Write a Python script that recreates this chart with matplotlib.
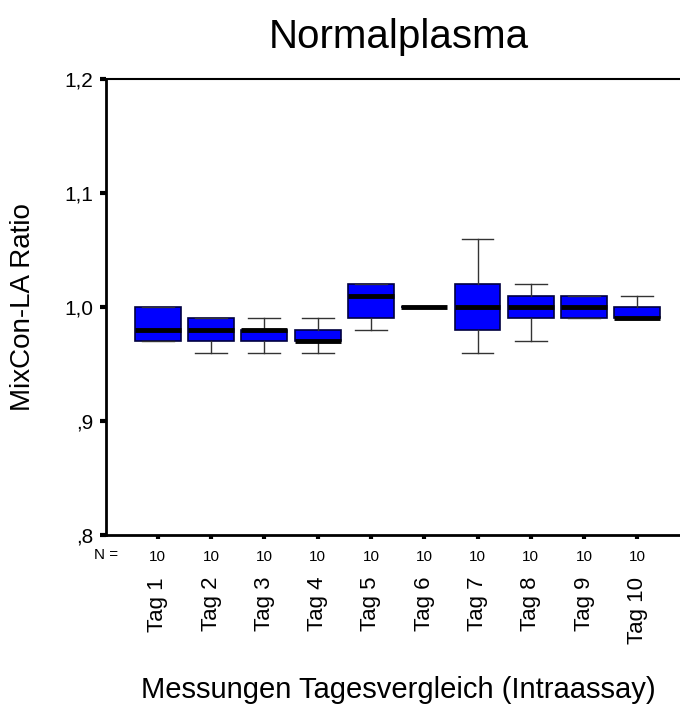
import matplotlib.pyplot as plt
import numpy as np

plt.rcParams['font.family'] = ['Liberation Sans', 'DejaVu Sans']

tage = ["Tag 1", "Tag 2", "Tag 3", "Tag 4", "Tag 5", "Tag 6", "Tag 7", "Tag 8", "Tag 9", "Tag 10"]
n = [10, 10, 10, 10, 10, 10, 10, 10, 10, 10]
median = [0.98, 0.98, 0.98, 0.97, 1.01, 1.00, 1.00, 1.00, 1.00, 0.99]
q1 = [0.97, 0.97, 0.97, 0.97, 0.99, 1.00, 0.98, 0.99, 0.99, 0.99]
q3 = [1.00, 0.99, 0.98, 0.98, 1.02, 1.00, 1.02, 1.01, 1.01, 1.00]
minimum = [0.97, 0.96, 0.96, 0.96, 0.98, 1.00, 0.96, 0.97, 0.99, 0.99]
maximum = [1.00, 0.99, 0.99, 0.99, 1.02, 1.00, 1.06, 1.02, 1.01, 1.01]

stats = []
for i in range(len(tage)):
    stats.append(dict(med=median[i], q1=q1[i], q3=q3[i],
                      whislo=minimum[i], whishi=maximum[i], fliers=[]))

pos = np.arange(1, len(tage) + 1)

fig = plt.figure(figsize=(6.8, 7.15), dpi=100)
ax = fig.add_axes([0.156, 0.2517, 0.844, 0.6378])

ax.bxp(stats, positions=pos, widths=0.86, capwidths=0.6, patch_artist=True,
       boxprops=dict(facecolor='#0000ff', edgecolor='#000040', linewidth=1.2),
       medianprops=dict(color='black', linewidth=3.5, solid_capstyle='butt'),
       whiskerprops=dict(color='#333333', linewidth=1),
       capprops=dict(color='#333333', linewidth=1))

ax.set_xlim(0.03, 10.8)
ax.set_ylim(0.8, 1.2)
ax.set_yticks([0.8, 0.9, 1.0, 1.1, 1.2])
ax.set_yticklabels([",8", ",9", "1,0", "1,1", "1,2"], fontsize=15)
ax.set_xticks(pos)
ax.set_xticklabels([str(v) for v in n], fontsize=11)
ax.tick_params(axis='x', length=3, width=3, pad=8)
ax.tick_params(axis='y', length=4, width=3, pad=5)

ax.spines['right'].set_visible(False)
ax.spines['left'].set_linewidth(2)
ax.spines['bottom'].set_linewidth(2)
ax.spines['top'].set_linewidth(1.5)

ax.text(0.03, -0.044, "N =", transform=ax.get_xaxis_transform(),
        ha='center', va='center', fontsize=11)
for p, t in zip(pos, tage):
    ax.text(p, -0.092, t, transform=ax.get_xaxis_transform(),
            rotation=90, ha='center', va='top', fontsize=16)

ax.set_title("Normalplasma", fontsize=29, pad=22, x=0.51)
ax.set_ylabel("MixCon-LA Ratio", fontsize=20, va='center')
ax.yaxis.set_label_coords(-0.1446, 0.5)
ax.set_xlabel("Messungen Tagesvergleich (Intraassay)", fontsize=21, va='center')
ax.xaxis.set_label_coords(0.509, -0.34)

fig.savefig("out.png", dpi=100)
